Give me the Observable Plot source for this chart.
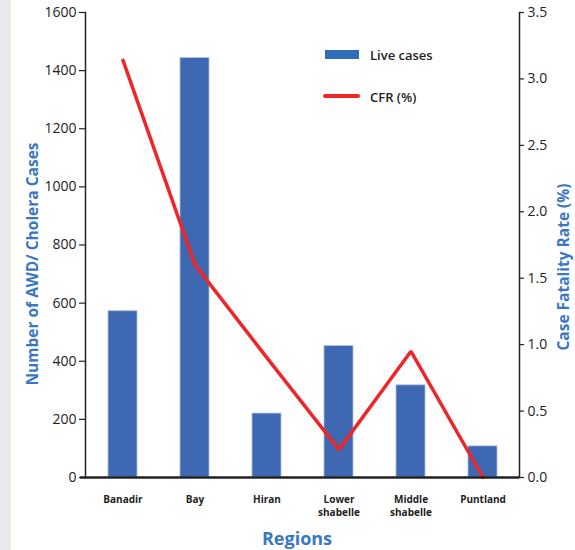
<!DOCTYPE html>
<html><head><meta charset="utf-8">
<script src="https://cdn.jsdelivr.net/npm/d3@7"></script>
<script src="https://cdn.jsdelivr.net/npm/@observablehq/plot@0.6"></script>
<style>
body{margin:0;background:#fff;font-family:"Open Sans",sans-serif;}
#wrap{position:relative;width:575px;height:550px;overflow:hidden;background:#fff}
#strip{position:absolute;left:0;top:0;width:11px;height:550px;background:#e9eaed}
#chart{position:absolute;left:0;top:0}
.t{position:absolute;white-space:nowrap;color:#3a77c2;font-weight:700;transform:translate(-50%,-50%)}
.rot{transform:translate(-50%,-50%) rotate(-90deg)}
.leg{position:absolute;font-size:13px;font-weight:600;color:#222;white-space:nowrap;transform:translateY(-50%)}
.sw{position:absolute}
</style></head>
<body>
<div id="wrap">
  <div id="strip"></div>
  <div id="chart"></div>
  <div class="sw" style="left:325px;top:50px;width:34px;height:9px;background:#2f6db5"></div>
  <div class="leg" style="left:370px;top:55px">Live cases</div>
  <div class="sw" style="left:323px;top:94px;width:37px;height:4px;border-radius:2px;background:#ee2629"></div>
  <div class="leg" style="left:370px;top:97px">CFR (%)</div>
  <div class="t rot" style="left:32px;top:264px;font-size:15.5px">Number of AWD/ Cholera Cases</div>
  <div class="t rot" style="left:563px;top:267px;font-size:15.5px">Case Fatality Rate (%)</div>
  <div class="t" style="left:297px;top:538px;font-size:18px">Regions</div>
</div>
<script>
const regions = ["Banadir","Bay","Hiran","Lower\nshabelle","Middle\nshabelle","Puntland"];
const liveCases = [572,1443,220,452,317,107];
const cfr = [3.14,1.60,0.90,0.21,0.95,0.0];
const casesTicks = [0,200,400,600,800,1000,1200,1400,1600];
const cfrTicks = [0,0.5,1.0,1.5,2.0,2.5,3.0,3.5];

const k = 1600/3.5;
const data = regions.map((r,i)=>({region:r, cases:liveCases[i], cfr:cfr[i]}));

const chart = Plot.plot({
  width:575, height:550,
  marginLeft:85, marginRight:56, marginTop:12, marginBottom:73,
  style:{fontFamily:"Open Sans, sans-serif", color:"#222", background:"transparent"},
  x:{domain:regions, paddingInner:0.6, paddingOuter:0.3},
  y:{domain:[0,1600]},
  marks:[
    Plot.barY(data,{x:"region", y:"cases", fill:"#3e69b2", stroke:"#a9bcdf", strokeWidth:0.8}),
    Plot.lineY(data,{x:"region", y:d=>d.cfr*k, stroke:"#ee2629", strokeWidth:3.5, strokeLinejoin:"miter"}),
    Plot.axisY(casesTicks,{anchor:"left", tickSize:6, tickPadding:3, fontSize:14, fontWeight:500, label:null, strokeWidth:1.2, tickFormat:d=>String(d)}),
    Plot.axisY(cfrTicks.map(v=>v*k),{anchor:"right", tickSize:4, tickPadding:4, fontSize:14, fontWeight:500, label:null, tickFormat:d=>(d/k).toFixed(1), strokeWidth:1.2}),
    Plot.axisX({tickSize:0, tickPadding:16, fontSize:10, fontWeight:700, lineHeight:1.3, label:null}),
    Plot.frame({anchor:"left", strokeWidth:1.5}),
    Plot.frame({anchor:"right", strokeWidth:1.5}),
    Plot.ruleY([0],{strokeWidth:2.5, insetLeft:-5})
  ]
});
document.getElementById("chart").appendChild(chart);
</script>
</body></html>
